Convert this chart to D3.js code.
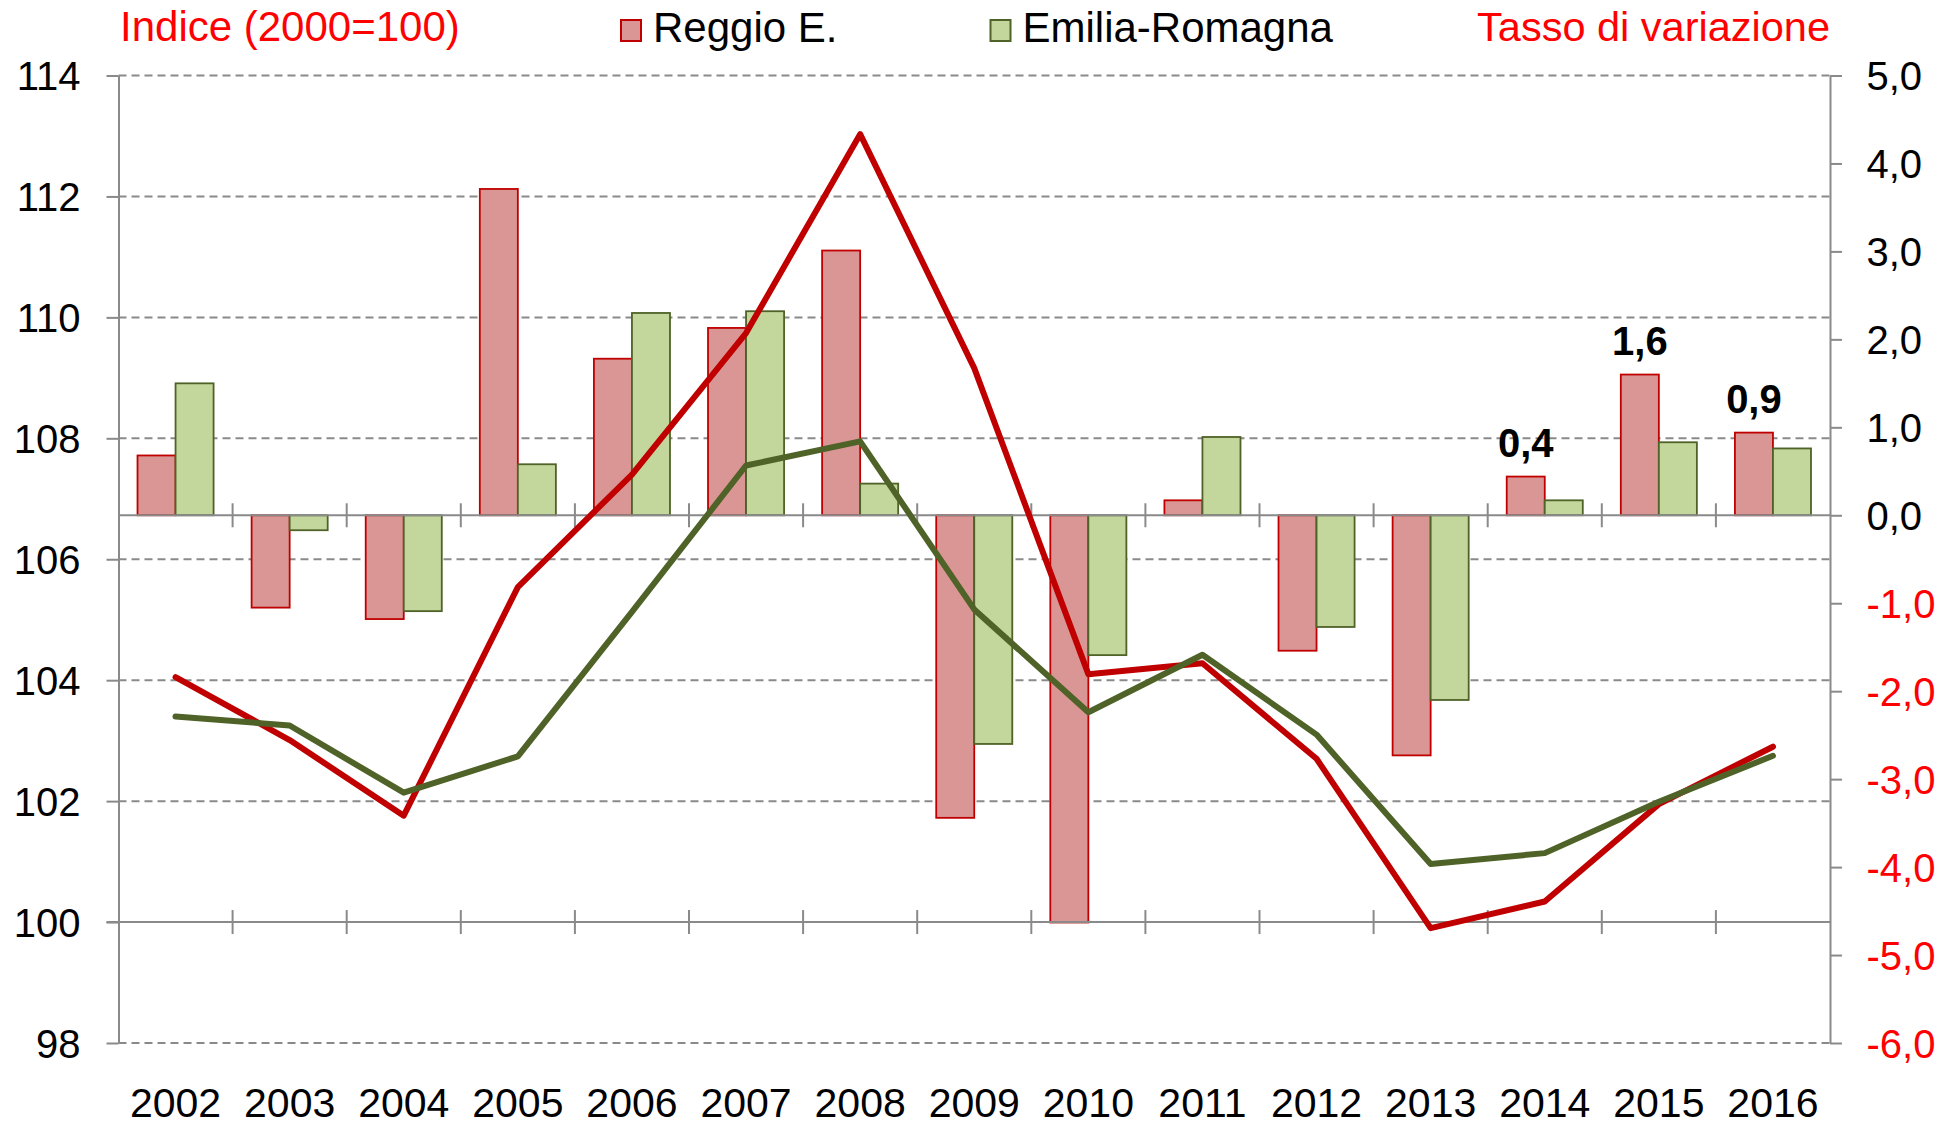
<!DOCTYPE html>
<html>
<head>
<meta charset="utf-8">
<script src="https://cdn.jsdelivr.net/npm/d3@7"></script>
<style>
  body { margin: 0; background: #fff; }
  text { font-family: "Liberation Sans", Arial, sans-serif; }
</style>
</head>
<body>
<div id="chart"></div>
<script>
// data
var years = ["2002", "2003", "2004", "2005", "2006", "2007", "2008", "2009", "2010", "2011", "2012", "2013", "2014", "2015", "2016"];
var series = ["Reggio E.", "Emilia-Romagna"];
// tasso di variazione (bars, right axis)
var rateReggio = [0.68, -1.05, -1.18, 3.71, 1.78, 2.13, 3.01, -3.44, -4.63, 0.17, -1.54, -2.73, 0.44, 1.60, 0.94];
var rateEmilia = [1.50, -0.17, -1.09, 0.58, 2.30, 2.32, 0.36, -2.60, -1.59, 0.89, -1.27, -2.10, 0.17, 0.83, 0.76];
// indice 2000=100 (lines, left axis)
var indexReggio = [104.05, 103.01, 101.76, 105.54, 107.40, 109.74, 113.03, 109.16, 104.10, 104.28, 102.70, 99.90, 100.34, 101.95, 102.90];
var indexEmilia = [103.40, 103.25, 102.14, 102.74, 105.13, 107.55, 107.95, 105.17, 103.47, 104.42, 103.10, 100.96, 101.14, 101.99, 102.75];
var leftTicks = [98, 100, 102, 104, 106, 108, 110, 112, 114];
var rightTicks = [-6, -5, -4, -3, -2, -1, 0, 1, 2, 3, 4, 5];
var labelYears = ["2014", "2015", "2016"];

var colors = { "Reggio E.": { fill: "#d99694", stroke: "#c00000" },
               "Emilia-Romagna": { fill: "#c3d69b", stroke: "#4f6228" } };

// set the dimensions and margins of the graph
var margin = { top: 75.5, right: 130, bottom: 83, left: 118.5 },
    width = 1960 - margin.left - margin.right,
    height = 1126 - margin.top - margin.bottom;

var root = d3.select("#chart")
    .append("svg")
    .attr("width", 1960)
    .attr("height", 1126);

var svg = root.append("g")
    .attr("transform", "translate(" + margin.left + "," + margin.top + ")");

// scales
var x0 = d3.scaleBand().domain(years).range([0, width]).padding(0);
var x1 = d3.scaleBand().domain(series).range([0, x0.bandwidth()]).paddingInner(0).paddingOuter(0.5);
var yL = d3.scaleLinear().domain([98, 114]).range([height, 0]);
var yR = d3.scaleLinear().domain([-6, 5]).range([height, 0]);

var grey = "#8a8a8a";
var fmt = function (v) { return (v < 0 ? "-" : "") + Math.abs(v).toFixed(1).replace(".", ","); };

// dashed gridlines (left axis)
svg.append("g")
    .selectAll("line")
    .data(leftTicks.filter(function (d) { return d !== 100; }))
    .enter()
    .append("line")
    .attr("x1", 0)
    .attr("x2", width)
    .attr("y1", function (d) { return yL(d); })
    .attr("y2", function (d) { return yL(d); })
    .style("stroke", grey)
    .style("stroke-width", 2)
    .style("stroke-dasharray", "8,5");

// bars
var rows = years.map(function (y, i) {
    return { year: y, values: [
        { key: "Reggio E.", v: rateReggio[i] },
        { key: "Emilia-Romagna", v: rateEmilia[i] }] };
});

svg.append("g")
    .selectAll("g")
    .data(rows)
    .enter()
    .append("g")
    .attr("transform", function (d) { return "translate(" + x0(d.year) + ",0)"; })
    .selectAll("rect")
    .data(function (d) { return d.values; })
    .enter()
    .append("rect")
    .attr("x", function (d) { return x1(d.key); })
    .attr("width", x1.bandwidth())
    .attr("y", function (d) { return yR(Math.max(0, d.v)); })
    .attr("height", function (d) { return Math.abs(yR(d.v) - yR(0)); })
    .style("fill", function (d) { return colors[d.key].fill; })
    .style("stroke", function (d) { return colors[d.key].stroke; })
    .style("stroke-width", 1.8);

// horizontal axis lines: at index 100 and at rate 0, with category ticks
function catAxis(yPos, x1pos) {
    var g = svg.append("g");
    g.append("line")
        .attr("x1", x1pos).attr("x2", width)
        .attr("y1", yPos).attr("y2", yPos)
        .style("stroke", grey).style("stroke-width", 2);
    g.selectAll(".ct")
        .data(years.slice(1))
        .enter()
        .append("line")
        .attr("x1", function (d) { return x0(d); })
        .attr("x2", function (d) { return x0(d); })
        .attr("y1", yPos - 12)
        .attr("y2", yPos + 12)
        .style("stroke", grey).style("stroke-width", 2);
}
catAxis(yL(100), -12);
catAxis(yR(0), 0);

// left Y axis
var axL = svg.append("g")
    .call(d3.axisLeft(yL).tickValues(leftTicks).tickSize(12).tickSizeOuter(0).tickPadding(26));
axL.select(".domain").style("stroke", grey).style("stroke-width", 2);
axL.selectAll(".tick line").style("stroke", grey).style("stroke-width", 2);
axL.selectAll(".tick text")
    .style("font-size", "40px")
    .style("fill", "#000")
    .attr("dy", "0.36em");

// right Y axis
var axR = svg.append("g")
    .attr("transform", "translate(" + width + ",0)")
    .call(d3.axisRight(yR).tickValues(rightTicks).tickSize(12).tickSizeOuter(0).tickPadding(24.5).tickFormat(fmt));
axR.select(".domain").style("stroke", grey).style("stroke-width", 2);
axR.selectAll(".tick line").style("stroke", grey).style("stroke-width", 2);
axR.selectAll(".tick text")
    .style("font-size", "40px")
    .style("fill", function (d) { return d < 0 ? "#ff0000" : "#000"; })
    .attr("dy", "0.36em");

// X labels
svg.append("g")
    .selectAll("text")
    .data(years)
    .enter()
    .append("text")
    .attr("x", function (d) { return x0(d) + x0.bandwidth() / 2; })
    .attr("y", height + 74)
    .attr("text-anchor", "middle")
    .style("font-size", "41px")
    .text(function (d) { return d; });

// lines
var line = d3.line()
    .x(function (d, i) { return x0(years[i]) + x0.bandwidth() / 2; })
    .y(function (d) { return yL(d); });

svg.append("path")
    .datum(indexReggio)
    .attr("d", line)
    .style("fill", "none")
    .style("stroke", "#c00000")
    .style("stroke-width", 6)
    .style("stroke-linejoin", "round")
    .style("stroke-linecap", "round");

svg.append("path")
    .datum(indexEmilia)
    .attr("d", line)
    .style("fill", "none")
    .style("stroke", "#4f6228")
    .style("stroke-width", 6)
    .style("stroke-linejoin", "round")
    .style("stroke-linecap", "round");

// data labels on last Reggio bars
svg.append("g")
    .selectAll("text")
    .data(labelYears)
    .enter()
    .append("text")
    .attr("x", function (d) { return x0(d) + x1("Reggio E.") + x1.bandwidth() / 2; })
    .attr("y", function (d) { return yR(rateReggio[years.indexOf(d)]) - 20; })
    .attr("text-anchor", "middle")
    .style("font-size", "40px")
    .style("font-weight", "bold")
    .text(function (d) { return fmt(rateReggio[years.indexOf(d)]); });

// header texts and legend
root.append("text")
    .attr("x", 120)
    .attr("y", 41)
    .style("font-size", "42px")
    .style("fill", "#ff0000")
    .text("Indice (2000=100)");

root.append("text")
    .attr("x", margin.left + width)
    .attr("y", 41)
    .attr("text-anchor", "end")
    .style("font-size", "41.5px")
    .style("fill", "#ff0000")
    .text("Tasso di variazione");

var legendX = [620, 989.5];
var leg = root.append("g")
    .selectAll("g")
    .data(series)
    .enter()
    .append("g")
    .attr("transform", function (d, i) { return "translate(" + legendX[i] + ",0)"; });
leg.append("rect")
    .attr("x", 1)
    .attr("y", 20)
    .attr("width", 20)
    .attr("height", 21)
    .style("fill", function (d) { return colors[d].fill; })
    .style("stroke", function (d) { return colors[d].stroke; })
    .style("stroke-width", 2);
leg.append("text")
    .attr("x", 33)
    .attr("y", 42)
    .style("font-size", "42px")
    .text(function (d) { return d; });
</script>
</body>
</html>
